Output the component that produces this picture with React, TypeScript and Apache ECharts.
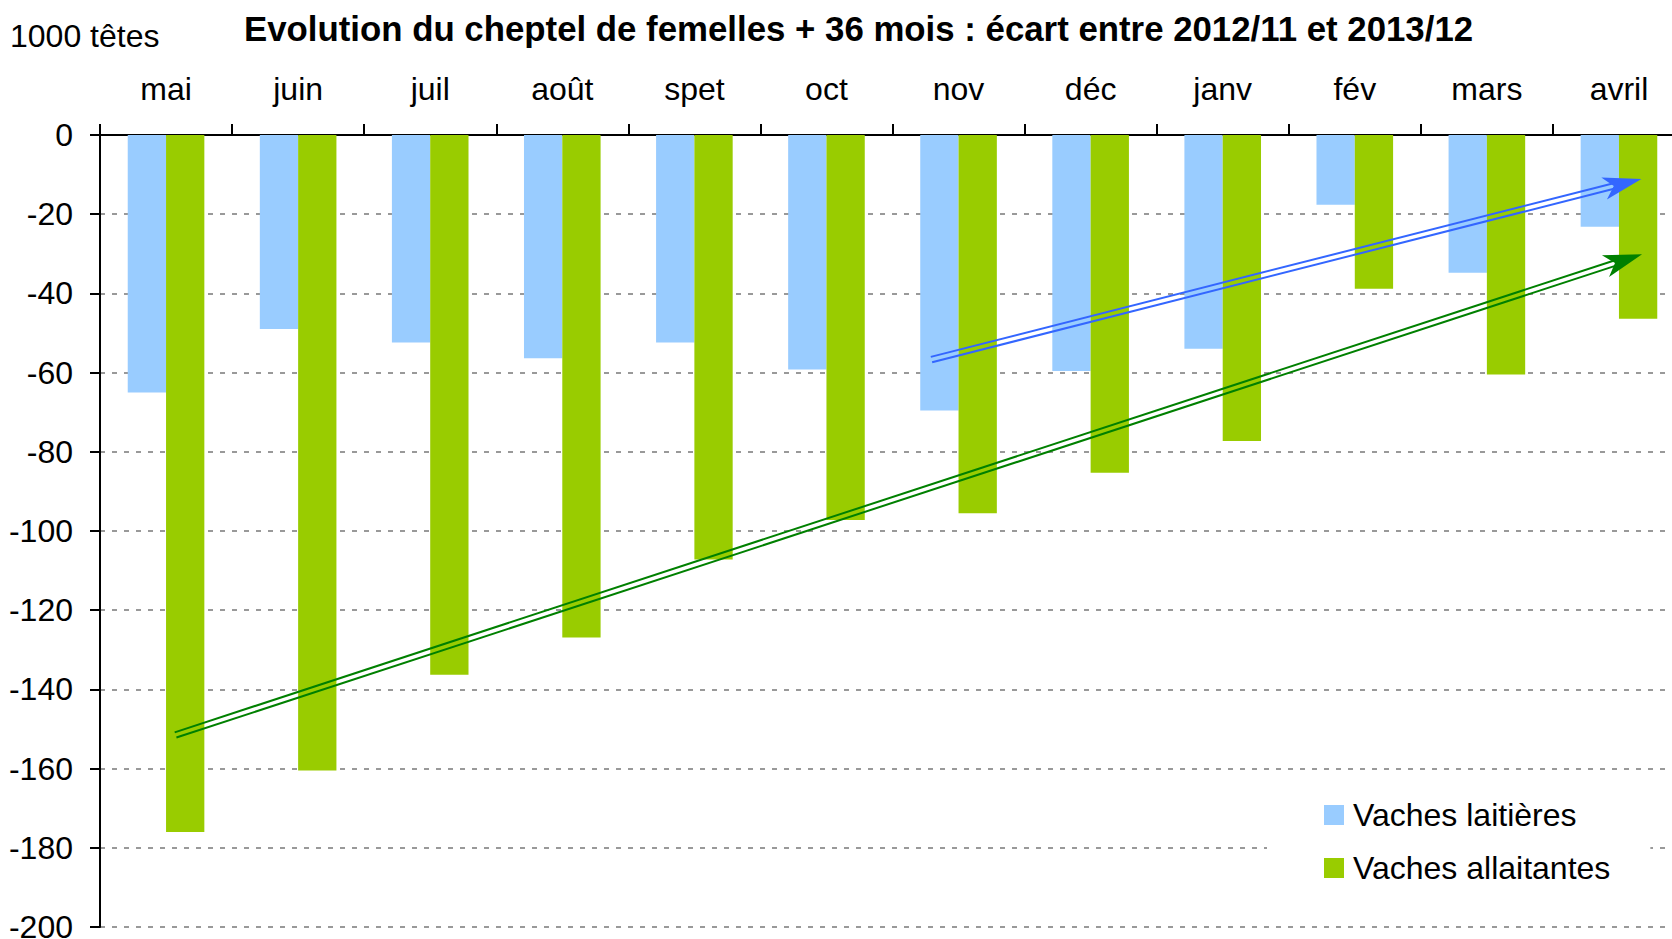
import React, { useEffect, useRef } from "react";
import * as echarts from "echarts";

const months = ["mai", "juin", "juil", "août", "spet", "oct", "nov", "déc", "janv", "fév", "mars", "avril"];
const laitieres = [-65, -49, -52.4, -56.4, -52.4, -59.2, -69.6, -59.6, -54, -17.6, -34.8, -23.2];
const allaitantes = [-176, -160.5, -136.3, -126.9, -107.2, -97.2, -95.5, -85.3, -77.3, -38.8, -60.5, -46.4];
const yMin = -200;
const yMax = 0;
const yInterval = 20;

// Trend arrows in data units: x counted in categories from the left edge of "mai", y in 1000 têtes
const arrowStarts = [
  [6.295, -56.7],
  [0.572, -151.5],
];
const arrowTips = [
  [11.67, -11.1],
  [11.675, -30.1],
];
const arrowColors = ["#3366FF", "#008000"];

const FONT = "'Liberation Sans', Arial, sans-serif";

function renderArrow(params: any, api: any) {
  const p0 = api.coord([api.value(0), api.value(1)]);
  const p1 = api.coord([api.value(2), api.value(3)]);
  const color = arrowColors[api.value(4)];
  const dx = p1[0] - p0[0];
  const dy = p1[1] - p0[1];
  const L = Math.hypot(dx, dy);
  const u = [dx / L, dy / L];
  const n = [-u[1], u[0]];
  const at = (base: number[], back: number, off: number) => [
    base[0] - u[0] * back + n[0] * off,
    base[1] - u[1] * back + n[1] * off,
  ];
  const off = 2.75;
  const headLen = 38.5;
  const headHalf = 11.4;
  const notch = 28.5;
  const railEnd = 26;
  const rail = (o: number) => {
    const a = at(p0, 0, o);
    const b = at(p1, railEnd, o);
    return {
      type: "line",
      shape: { x1: a[0], y1: a[1], x2: b[0], y2: b[1] },
      style: { stroke: color, lineWidth: 2, fill: null },
    };
  };
  return {
    type: "group",
    children: [
      rail(off),
      rail(-off),
      {
        type: "polygon",
        shape: { points: [p1, at(p1, headLen, headHalf), at(p1, notch, 0), at(p1, headLen, -headHalf)] },
        style: { fill: color, stroke: null },
      },
    ],
  };
}

export default function App() {
  const ref = useRef<HTMLDivElement>(null);
  useEffect(() => {
    if (!ref.current) return;
    const chart = echarts.init(ref.current, null, { renderer: "svg" });
    chart.setOption({
      animation: false,
      backgroundColor: "#fff",
      textStyle: { fontFamily: FONT },
      title: [
        {
          text: "Evolution du cheptel de femelles + 36 mois : écart entre 2012/11 et 2013/12",
          left: 239,
          top: 6,
          textStyle: { fontFamily: FONT, fontWeight: "bold", fontSize: 34.8, color: "#000" },
        },
        {
          text: "1000 têtes",
          left: 5,
          top: 15,
          textStyle: { fontFamily: FONT, fontWeight: "normal", fontSize: 32, color: "#000" },
        },
      ],
      legend: {
        data: ["Vaches laitières", "Vaches allaitantes"],
        orient: "vertical",
        left: 1267,
        top: 772,
        padding: [27, 40, 39, 57],
        backgroundColor: "#fff",
        itemWidth: 20,
        itemHeight: 20,
        itemGap: 21,
        icon: "rect",
        textStyle: { fontFamily: FONT, fontSize: 32, color: "#000", padding: [0, 0, 0, 4] },
      },
      grid: { left: 100, top: 135, width: 1585, height: 792, outerBoundsMode: "none", containLabel: false },
      xAxis: [
        {
          type: "category",
          data: months,
          position: "top",
          axisLine: { show: true, lineStyle: { color: "#000", width: 2 } },
          axisTick: { show: true, length: 11, lineStyle: { color: "#000", width: 2 } },
          axisLabel: { fontFamily: FONT, fontSize: 32, color: "#000", margin: 30 },
          splitLine: { show: false },
        },
        { type: "value", min: 0, max: months.length, show: false, position: "bottom" },
      ],
      yAxis: {
        type: "value",
        min: yMin,
        max: yMax,
        interval: yInterval,
        axisLine: { show: true, lineStyle: { color: "#000", width: 2 } },
        axisTick: { show: true, length: 10, lineStyle: { color: "#000", width: 2 } },
        axisLabel: { fontFamily: FONT, fontSize: 32, color: "#000", margin: 27 },
        splitLine: { show: true, lineStyle: { color: "#999", width: 2, type: [5, 7] } },
      },
      series: [
        {
          name: "Vaches laitières",
          type: "bar",
          data: laitieres,
          itemStyle: { color: "#99CCFF" },
          barGap: "0%",
          barCategoryGap: "42%",
        },
        {
          name: "Vaches allaitantes",
          type: "bar",
          data: allaitantes,
          itemStyle: { color: "#99CC00" },
          barGap: "0%",
          barCategoryGap: "42%",
        },
        {
          name: "tendances",
          type: "custom",
          coordinateSystem: "cartesian2d",
          xAxisIndex: 1,
          yAxisIndex: 0,
          silent: true,
          z: 3,
          clip: false,
          encode: { x: [0, 2], y: [1, 3] },
          data: arrowStarts.map((s, i) => [s[0], s[1], arrowTips[i][0], arrowTips[i][1], i]),
          renderItem: renderArrow,
        },
      ],
    });
    return () => chart.dispose();
  }, []);
  return (
    <div
      ref={ref}
      style={{ position: "fixed", left: 0, top: 0, width: 1672, height: 939, background: "#fff" }}
    />
  );
}
